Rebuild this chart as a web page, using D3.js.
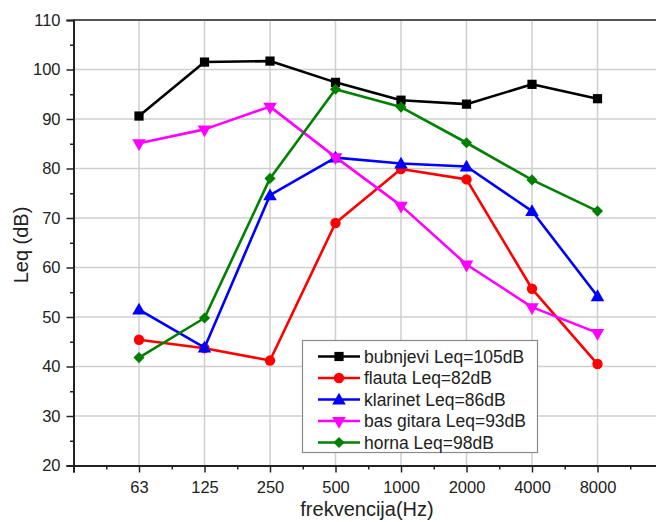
<!DOCTYPE html>
<html>
<head>
<meta charset="utf-8">
<script src="https://cdn.jsdelivr.net/npm/d3@7/dist/d3.min.js"></script>
<style>
  html, body { margin: 0; padding: 0; background: #fff; }
  svg { display: block; }
  text { font-family: "Liberation Sans", Arial, sans-serif; fill: #222; }
</style>
</head>
<body>
<svg id="chart" width="656" height="522"></svg>
<script>
// Octave-band centre frequencies (Hz)
const frequencies = ["63", "125", "250", "500", "1000", "2000", "4000", "8000"];

// Equivalent sound level per band, dB
const bubnjevi  = [90.6, 101.5, 101.7, 97.4, 93.8, 93.0, 97.0, 94.1];
const flauta    = [45.4, 43.7, 41.2, 69.0, 79.9, 77.8, 55.7, 40.5];
const klarinet  = [51.5, 43.8, 74.6, 82.2, 81.0, 80.4, 71.4, 54.2];
const basGitara = [85.1, 87.9, 92.5, 82.3, 72.5, 60.6, 52.0, 46.8];
const horna     = [41.8, 49.8, 78.0, 96.0, 92.4, 85.2, 77.7, 71.4];

const seriesNames = ["bubnjevi Leq=105dB", "flauta Leq=82dB", "klarinet Leq=86dB",
                     "bas gitara Leq=93dB", "horna Leq=98dB"];
const seriesValues = [bubnjevi, flauta, klarinet, basGitara, horna];
const seriesColors = ["#000000", "#ff0000", "#0000ff", "#ff00ff", "#008000"];
const seriesSymbols = ["square", "circle", "triangle", "triangleDown", "diamond"];

const yTicks = [20, 30, 40, 50, 60, 70, 80, 90, 100, 110];

(function draw() {
const svg = d3.select("#chart");
const plotLeft = 73.5, plotTop = 20, plotBottom = 465.5;

// category index 1..8 sits on the band; axis begins at index 0
const x = d3.scaleLinear().domain([0, 9]).range([plotLeft, plotLeft + 9 * 65.5]);
const y = d3.scaleLinear().domain([20, 110]).range([plotBottom, plotTop]);

// grid
const grid = svg.append("g");
grid.selectAll("line.v").data(frequencies).join("line").attr("class", "v")
  .attr("x1", (d, i) => x(i + 1)).attr("x2", (d, i) => x(i + 1))
  .attr("y1", plotTop).attr("y2", plotBottom)
  .attr("stroke", "#cfcfcf").attr("stroke-width", 1.5);
grid.selectAll("line.h").data(yTicks.filter(v => v > 20 && v < 110)).join("line").attr("class", "h")
  .attr("x1", plotLeft).attr("x2", 656)
  .attr("y1", d => y(d)).attr("y2", d => y(d))
  .attr("stroke", "#cfcfcf").attr("stroke-width", 1.5);

// top frame line
svg.append("line").attr("x1", plotLeft).attr("x2", 656).attr("y1", plotTop).attr("y2", plotTop)
  .attr("stroke", "#555").attr("stroke-width", 2);

// y axis
const yAxis = d3.axisLeft(y).tickValues(yTicks).tickSize(7).tickPadding(6);
const gy = svg.append("g").attr("transform", `translate(${plotLeft},0)`).call(yAxis);
gy.select(".domain").attr("stroke", "#222").attr("stroke-width", 2);
gy.selectAll(".tick line").attr("stroke", "#222").attr("stroke-width", 1.5);
gy.selectAll(".tick text").style("font-size", "16.5px").attr("fill", "#222")
  .style("font-family", "Liberation Sans, Arial, sans-serif");
const yMinor = d3.axisLeft(y).tickValues(d3.range(25, 110, 10)).tickSize(3.5).tickFormat("");
const gym = svg.append("g").attr("transform", `translate(${plotLeft},0)`).call(yMinor);
gym.select(".domain").remove();
gym.selectAll(".tick line").attr("stroke", "#222").attr("stroke-width", 1.5);

// x axis
const xAxis = d3.axisBottom(x).tickValues(d3.range(0, 10)).tickSize(7).tickPadding(9)
  .tickFormat(i => (i >= 1 && i <= frequencies.length) ? frequencies[i - 1] : "");
const gx = svg.append("g").attr("transform", `translate(0,${plotBottom})`).call(xAxis);
gx.select(".domain").attr("stroke", "#222").attr("stroke-width", 2);
gx.selectAll(".tick line").attr("stroke", "#222").attr("stroke-width", 1.5);
gx.selectAll(".tick text").style("font-size", "16.5px").attr("fill", "#222")
  .style("font-family", "Liberation Sans, Arial, sans-serif");
const xMinor = d3.axisBottom(x).tickValues(d3.range(0.5, 9, 1)).tickSize(4).tickFormat("");
const gxm = svg.append("g").attr("transform", `translate(0,${plotBottom})`).call(xMinor);
gxm.select(".domain").remove();
gxm.selectAll(".tick line").attr("stroke", "#222").attr("stroke-width", 1.5);

// axis titles
svg.append("text").attr("x", 367).attr("y", 516).attr("text-anchor", "middle")
  .style("font-size", "20px").text("frekvencija(Hz)");
svg.append("text").attr("transform", "translate(28,245) rotate(-90)")
  .attr("text-anchor", "middle").style("font-size", "20px").text("Leq (dB)");

// marker shapes (diamond = square turned 45°)
const symbolOf = {
  square: d3.symbol(d3.symbolSquare, 85),
  circle: d3.symbol(d3.symbolCircle, 85),
  triangle: d3.symbol(d3.symbolTriangle, 80),
  triangleDown: d3.symbol(d3.symbolTriangle, 80),
  diamond: d3.symbol(d3.symbolSquare, 62)
};
function markerTransform(kind, cx, cy) {
  if (kind === "triangleDown") return `translate(${cx},${cy}) rotate(180)`;
  if (kind === "triangle") return `translate(${cx},${cy + 1})`;
  if (kind === "diamond") return `translate(${cx},${cy}) rotate(45)`;
  return `translate(${cx},${cy})`;
}

const line = d3.line().x((d, i) => x(i + 1)).y(d => y(d));

seriesValues.forEach((vals, s) => {
  const g = svg.append("g");
  g.append("path").datum(vals).attr("d", line)
    .attr("fill", "none").attr("stroke", seriesColors[s]).attr("stroke-width", 2.6)
    .attr("stroke-linejoin", "round");
  g.selectAll("path.m").data(vals).join("path").attr("class", "m")
    .attr("d", symbolOf[seriesSymbols[s]]())
    .attr("transform", (d, i) => markerTransform(seriesSymbols[s], x(i + 1), y(d)))
    .attr("fill", seriesColors[s]);
});

// legend
const lg = svg.append("g");
lg.append("rect").attr("x", 302.5).attr("y", 340.5).attr("width", 235).attr("height", 112)
  .attr("fill", "#fff").attr("stroke", "#8a8a8a").attr("stroke-width", 1.2);
const rowY = d3.scaleLinear().domain([0, 4]).range([356.5, 442.5]);
seriesNames.forEach((name, s) => {
  const cy = rowY(s);
  lg.append("line").attr("x1", 318).attr("x2", 360).attr("y1", cy).attr("y2", cy)
    .attr("stroke", seriesColors[s]).attr("stroke-width", 2.6);
  lg.append("path").attr("d", symbolOf[seriesSymbols[s]]())
    .attr("transform", markerTransform(seriesSymbols[s], 339, cy))
    .attr("fill", seriesColors[s]);
  lg.append("text").attr("x", 364).attr("y", cy + 6).style("font-size", "17.5px").text(name);
});
})();
</script>
</body>
</html>
